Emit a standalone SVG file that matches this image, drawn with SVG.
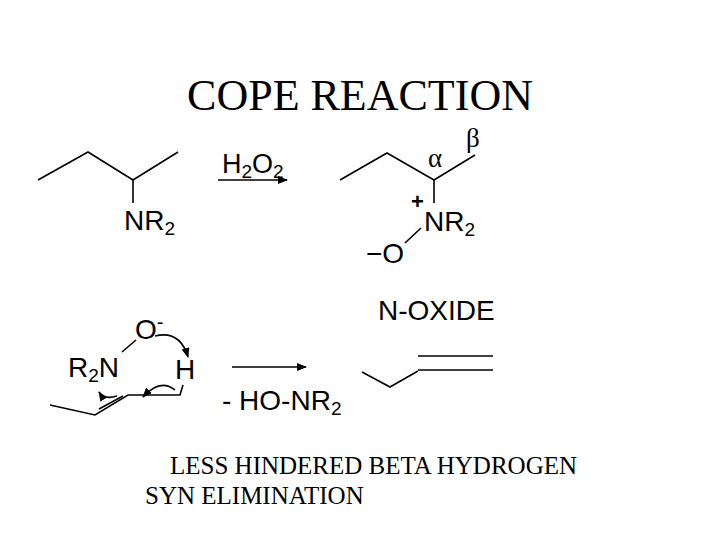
<svg xmlns="http://www.w3.org/2000/svg" width="720" height="540" viewBox="0 0 720 540">
<style>
.b{stroke:#000;stroke-width:1.6;fill:none}
.s{font-family:"Liberation Sans",Arial,sans-serif;fill:#000}
.r{font-family:"Liberation Serif","Times New Roman",serif;fill:#000}
</style>
<defs><marker id="a" markerWidth="10" markerHeight="8" refX="9" refY="4" orient="auto" markerUnits="userSpaceOnUse"><path d="M0,0L10,4L0,8z"/></marker></defs>
<rect width="720" height="540" fill="#fff"/>
<text class="r" x="360" y="110" font-size="44" text-anchor="middle">COPE REACTION</text>
<g id="amine">
<polyline class="b" points="38,180 88,152 133,180 178,152"/>
<line class="b" x1="133" y1="180" x2="133" y2="203"/>
<text class="s" x="124" y="230" font-size="28">NR<tspan font-size="19" dy="5">2</tspan></text>
</g>
<g id="noxide">
<polyline class="b" points="340,180 387,153 434,180 475,155"/>
<line class="b" x1="434" y1="180" x2="434" y2="203"/>
<line class="b" x1="405" y1="243" x2="421" y2="228"/>
<text class="r" x="428" y="167" font-size="27">α</text>
<text class="r" x="466" y="147" font-size="27">β</text>
<text class="s" x="411" y="209" font-size="22" font-weight="bold">+</text>
<text class="s" x="424" y="231" font-size="28">NR<tspan font-size="19" dy="5">2</tspan></text>
<text class="s" x="366" y="263" font-size="28">−O</text>
<text class="s" x="378" y="320" font-size="28">N-OXIDE</text>
</g>
<g id="ts">
<polyline class="b" points="50,405 95,415 128,395 180,395 183,385"/>
<line class="b" x1="99" y1="409" x2="123" y2="396"/>
<line class="b" x1="122" y1="352" x2="136" y2="340"/>
<text class="s" x="68" y="377" font-size="28">R<tspan font-size="19" dy="5">2</tspan><tspan dy="-5">N</tspan></text>
<text class="s" x="135" y="339" font-size="28">O<tspan font-size="20" dy="-10">-</tspan></text>
<text class="s" x="175" y="379" font-size="28">H</text>
</g>
<g id="product">
<polyline class="b" points="362,372 390,387 418,371"/>
<line class="b" x1="418" y1="356" x2="493" y2="356"/>
<line class="b" x1="418" y1="370" x2="493" y2="370"/>
</g>
<g id="connectors">
<line class="b" x1="218" y1="180" x2="287" y2="180" marker-end="url(#a)"/>
<line class="b" x1="232" y1="367" x2="306" y2="367" marker-end="url(#a)"/>
<path class="b" d="M155,336 Q180,330 188,357" marker-end="url(#a)"/>
<path class="b" d="M175,390 Q160,378 143,397" marker-end="url(#a)"/>
<path class="b" d="M117,396 Q104,400 99,392" marker-end="url(#a)"/>
</g>
<text class="s" x="222" y="173" font-size="27">H<tspan font-size="19" dy="5">2</tspan><tspan dy="-5">O</tspan><tspan font-size="19" dy="5">2</tspan></text>
<text class="s" x="222" y="410" font-size="28">- HO-NR<tspan font-size="19" dy="5">2</tspan></text>
<text class="r" x="170" y="474" font-size="25">LESS HINDERED BETA HYDROGEN</text>
<text class="r" x="145" y="504" font-size="25">SYN ELIMINATION</text>
</svg>
